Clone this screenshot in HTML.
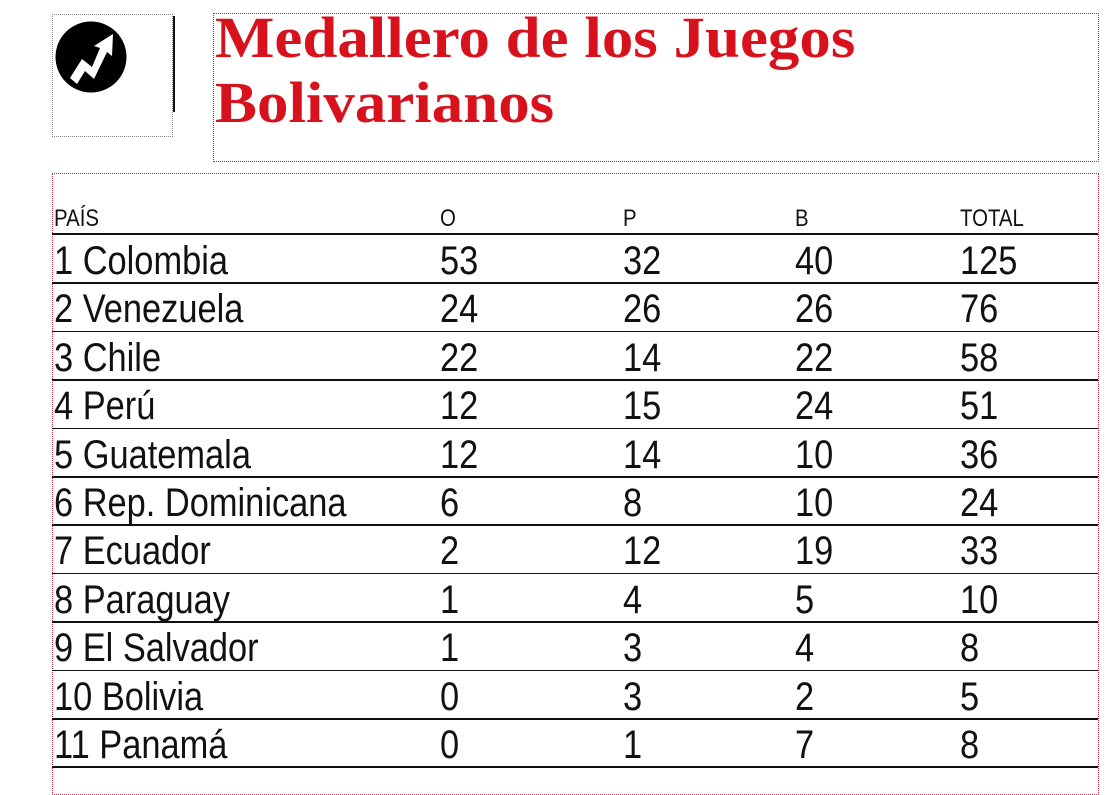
<!DOCTYPE html>
<html><head><meta charset="utf-8"><style>
body{margin:0;width:1111px;height:772px;overflow:hidden;background:#fff;position:relative;font-family:"Liberation Sans",sans-serif;}
.abs{position:absolute;}
#logo-box{left:52px;top:14px;width:119px;height:121px;border:1px dotted #888;}
#title-box{left:213px;top:13px;width:884px;height:147px;border:1px dotted #c0304a;}
#title{left:215px;top:5px;margin:0;font-family:"Liberation Serif",serif;font-weight:bold;color:#d8121c;font-size:58px;line-height:65px;transform:scaleX(1.085);transform-origin:left top;white-space:nowrap;}
#table-box{left:52px;top:173px;width:1045px;height:620px;border:1px dotted #c0304a;}
.hdr{position:absolute;top:207px;font-size:24px;line-height:24px;color:#111;transform:scaleX(0.85);transform-origin:left top;}
.line{position:absolute;left:52px;width:1046px;height:1.5px;background:#111;}
.cell{position:absolute;font-size:40px;color:#111;line-height:40px;white-space:nowrap;transform:scaleX(0.86);transform-origin:left top;}
</style></head><body>
<div id="logo-box" class="abs"></div>
<div class="abs" style="left:173px;top:16px;width:2px;height:96px;background:#111"></div>
<svg class="abs" style="left:55px;top:21px" width="74" height="74" viewBox="0 0 74 74">
<circle cx="36" cy="36" r="35.5" fill="#000"/>
<polygon points="15,57 27,38 37,46 45,27 39,25 58,13 57,35 52,31 39,58 30,50 22,63" fill="#fff"/>
</svg>
<div id="title-box" class="abs"></div>
<h1 id="title" class="abs">Medallero de los Juegos<br>Bolivarianos</h1>
<div id="table-box" class="abs"></div>
<div class="hdr" style="left:54px">PAÍS</div>
<div class="hdr" style="left:440px">O</div>
<div class="hdr" style="left:623px">P</div>
<div class="hdr" style="left:795px">B</div>
<div class="hdr" style="left:960px">TOTAL</div>
<div class="line" style="top:233px"></div>
<div id="rows"></div>
<script>
const countries=["1 Colombia","2 Venezuela","3 Chile","4 Perú","5 Guatemala","6 Rep. Dominicana","7 Ecuador","8 Paraguay","9 El Salvador","10 Bolivia","11 Panamá"];
const gold=[53,24,22,12,12,6,2,1,1,0,0];
const silver=[32,26,14,15,14,8,12,4,3,3,1];
const bronze=[40,26,22,24,10,10,19,5,4,2,7];
const total=[125,76,58,51,36,24,33,10,8,5,8];
const rows=document.getElementById('rows');
const colX=[54,440,623,795,960];
const rowH=48.4;
countries.forEach((c,i)=>{
  const top=236+i*rowH;
  const vals=[c,gold[i],silver[i],bronze[i],total[i]];
  const names=['country','gold','silver','bronze','total'];
  vals.forEach((v,j)=>{
    const d=document.createElement('div');
    d.className='cell';
    d.style.left=colX[j]+'px';
    d.style.top=(top+5)+'px';
    d.textContent=v;
    
    
    rows.appendChild(d);
  });
  const l=document.createElement('div');
  l.className='line';
  l.style.top=(top+rowH-2)+'px';
  
  
  rows.appendChild(l);
});
</script>
</body></html>
